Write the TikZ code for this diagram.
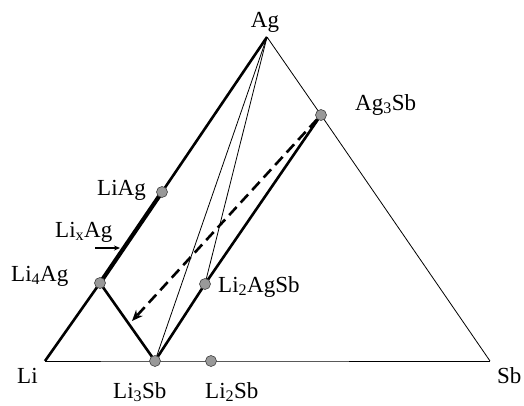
\documentclass[tikz,border=0pt]{standalone}
\usepackage{fontspec}
\setmainfont{Liberation Serif}
\usetikzlibrary{arrows.meta,backgrounds}

\begin{document}
\begin{tikzpicture}[
  x=1pt, y=-1pt,
  font=\fontsize{23}{26}\selectfont,
  dot/.style={circle, draw=black!75, fill=black!40, line width=0.6pt, minimum size=11pt, inner sep=0pt},
  lbl/.style={inner sep=0pt, anchor=base west},
  thinline/.style={line width=0.8pt},
  tieline/.style={line width=2.6pt}
]
\useasboundingbox (0,0) rectangle (524,405);

% corners of the triangle
\coordinate (li) at (45,361);
\coordinate (sb) at (490,361);
\coordinate (ag) at (267,37);

% compounds
\node[dot] (li4ag) at (100,283) {};
\node[dot] (liag) at (162,192) {};
\node[dot] (li3sb) at (155,361) {};
\node[dot] (li2sb) at (211,361) {};
\node[dot] (ag3sb) at (321,115) {};
\node[dot] (li2agsb) at (205,284) {};

% labels
\node[lbl, anchor=base] (aglbl) at (265,27) {Ag};
\node[lbl] (lilbl) at (17,383) {Li};
\node[lbl] (sblbl) at (497,383) {Sb};
\node[lbl] (li4aglbl) at (11,281) {Li\textsubscript{4}Ag};
\node[lbl] (liaglbl) at (97,195) {LiAg};
\node[lbl] (lixaglbl) at (55,237) {Li\textsubscript{x}Ag};
\node[lbl] (li3sblbl) at (113,398) {Li\textsubscript{3}Sb};
\node[lbl] (li2sblbl) at (205,398) {Li\textsubscript{2}Sb};
\node[lbl] (ag3sblbl) at (355,110) {Ag\textsubscript{3}Sb};
\node[lbl] (li2agsblbl) at (218,292) {Li\textsubscript{2}AgSb};

\begin{scope}[on background layer]
\draw[thinline] (li) -- (li3sb.center) -- (li2sb.center) -- (sb);
\draw[thinline] (ag) -- (ag3sb.center) -- (sb);
\draw[thinline] (ag) -- (li3sb.center);
\draw[thinline] (ag) -- (li2agsb.center);
\draw[tieline] (li) -- (li4ag.center);
\draw[line width=4.2pt] (li4ag.center) -- (liag.center);
\draw[tieline] (liag.center) -- (ag);
\draw[tieline] (li4ag.center) -- (li3sb.center);
\draw[tieline] (li3sb.center) -- (li2agsb.center) -- (ag3sb.center);
\end{scope}

% reaction path
\coordinate (dashend) at (132,321);
\draw[line width=2.6pt, dash pattern=on 11pt off 6pt, -{Stealth[length=11pt,width=9pt]}] (ag3sb) -- (dashend);

\coordinate (lixtail) at (95,248);
\coordinate (lixtip) at (120,248);
\draw[line width=1.4pt, -{Stealth[length=6pt,width=5pt]}] (lixtail) -- (lixtip);

\end{tikzpicture}
\end{document}
